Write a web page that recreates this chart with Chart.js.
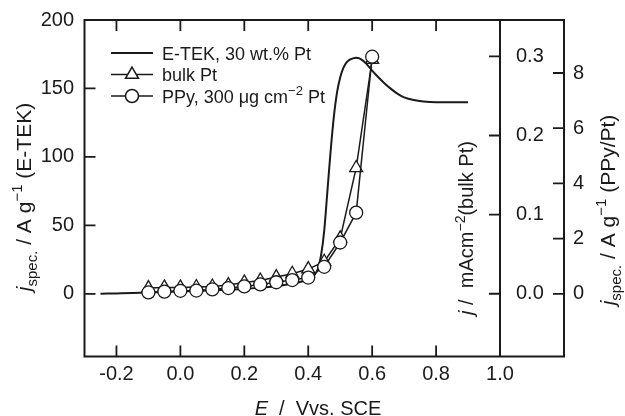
<!DOCTYPE html>
<html>
<head>
<meta charset="utf-8">
<script src="https://cdn.jsdelivr.net/npm/chart.js@4.4.0/dist/chart.umd.min.js"></script>
<style>
  html, body { margin: 0; padding: 0; background: #fff; }
  #wrap { width: 625px; height: 416px; }
</style>
</head>
<body>
<div id="wrap"><canvas id="c" width="625" height="416"></canvas></div>
<script>
// --- data ---
// E-TEK curve (left axis, A/g)
const eTekE = [-0.25, -0.2, -0.15, -0.1, -0.05, 0, 0.05, 0.1, 0.15, 0.2, 0.25, 0.3, 0.35, 0.38, 0.4, 0.42, 0.43, 0.44, 0.45, 0.46, 0.47, 0.48, 0.49, 0.5, 0.51, 0.52, 0.53, 0.54, 0.55, 0.56, 0.57, 0.58, 0.6, 0.62, 0.64, 0.66, 0.68, 0.7, 0.73, 0.76, 0.8, 0.85, 0.9];
const eTekJ = [0, 0.3, 0.6, 1, 1.3, 1.7, 2, 2.5, 3, 3.5, 4.5, 5.5, 7.5, 9, 11, 14, 18, 28, 46, 75, 104, 129, 147, 158, 165, 169, 171, 172, 172.5, 172, 170.5, 168.5, 163, 158, 153.5, 149.5, 146, 143.5, 141.5, 140.5, 140, 140, 140];

// marker series share the same potentials
const markerE = [-0.1, -0.05, 0, 0.05, 0.1, 0.15, 0.2, 0.25, 0.3, 0.35, 0.4, 0.45, 0.5, 0.55, 0.6];
const bulkPtJ = [0.0072, 0.008, 0.008, 0.0085, 0.0092, 0.011, 0.0143, 0.0168, 0.0211, 0.0253, 0.0312, 0.0405, 0.07, 0.159, 0.296];   // mA/cm2
const ppyPtJ = [0.05, 0.08, 0.11, 0.12, 0.16, 0.21, 0.27, 0.34, 0.42, 0.50, 0.59, 0.98, 1.86, 2.94, 8.59];   // A/g

// tick labels
const xTicks = [-0.2, 0, 0.2, 0.4, 0.6, 0.8, 1.0];
const eTekTicks = [0, 50, 100, 150, 200];
const bulkTicks = [0, 0.1, 0.2, 0.3];
const ppyTicks = [0, 2, 4, 6, 8];

const FONT = '"Liberation Sans", Arial, Helvetica, sans-serif';
const ink = '#1a1a1a';
const tickFont = { family: FONT, size: 20 };

function fixedTicks(list) {
  return function (scale) { scale.ticks = list.map(v => ({ value: v })); };
}
// fixed axis thickness, and no extra label padding pushing the plot area around
function fixedSize(size) {
  return function (scale) {
    if (scale.isHorizontal()) scale.height = size; else scale.width = size;
    scale.paddingTop = 0; scale.paddingBottom = 0;
    scale.paddingLeft = 0; scale.paddingRight = 0;
  };
}
function pairs(xs, ys) { return xs.map((x, i) => ({ x: x, y: ys[i] })); }

function fontOf(p, size) {
  const s = (p.sup || p.sub) ? Math.round(size * 0.7) : size;
  return (p.it ? 'italic ' : '') + s + 'px ' + FONT;
}
// draw text with sub/superscripts; x is centre (or left if alignLeft), y is baseline
function drawRich(ctx, parts, x, y, size, alignLeft) {
  let w = 0;
  parts.forEach(p => { ctx.font = fontOf(p, size); w += ctx.measureText(p.t).width; });
  let cx = alignLeft ? x : x - w / 2;
  parts.forEach(p => {
    ctx.font = fontOf(p, size);
    const dy = p.sup ? -size * 0.42 : (p.sub ? size * 0.28 : 0);
    ctx.fillText(p.t, cx, y + dy);
    cx += ctx.measureText(p.t).width;
  });
}

const frameAndText = {
  id: 'frameAndText',
  afterDraw(chart) {
    const ctx = chart.ctx;
    const a = chart.chartArea;
    const sx = chart.scales.x, sE = chart.scales.yE, sB = chart.scales.yB, sP = chart.scales.yP;
    const outerRight = sP.left;
    const TL = 11;
    ctx.save();
    ctx.strokeStyle = ink;
    ctx.fillStyle = ink;

    // frame
    ctx.lineWidth = 2;
    ctx.beginPath();
    ctx.moveTo(a.left, a.top); ctx.lineTo(outerRight, a.top);
    ctx.lineTo(outerRight, a.bottom); ctx.lineTo(a.left, a.bottom);
    ctx.closePath();
    ctx.moveTo(a.right, a.top); ctx.lineTo(a.right, a.bottom);
    ctx.stroke();

    // inward ticks
    ctx.lineWidth = 1.8;
    ctx.beginPath();
    sx.ticks.forEach(t => {
      const px = sx.getPixelForValue(t.value);
      ctx.moveTo(px, a.bottom); ctx.lineTo(px, a.bottom - TL);
      ctx.moveTo(px, a.top); ctx.lineTo(px, a.top + TL);
    });
    sE.ticks.forEach(t => {
      const py = sE.getPixelForValue(t.value);
      ctx.moveTo(a.left, py); ctx.lineTo(a.left + TL, py);
    });
    sB.ticks.forEach(t => {
      const py = sB.getPixelForValue(t.value);
      ctx.moveTo(a.right, py); ctx.lineTo(a.right - TL, py);
    });
    sP.ticks.forEach(t => {
      const py = sP.getPixelForValue(t.value);
      ctx.moveTo(outerRight, py); ctx.lineTo(outerRight - TL, py);
    });
    ctx.stroke();

    // axis titles
    ctx.textBaseline = 'alphabetic';
    drawRich(ctx, [{ t: 'E', it: true }, { t: '  /  Vvs. SCE' }], 318, 415, 20);

    const rotated = (parts, bx, cy, size) => {
      ctx.save();
      ctx.translate(bx, cy);
      ctx.rotate(-Math.PI / 2);
      drawRich(ctx, parts, 0, 0, size);
      ctx.restore();
    };
    rotated([{ t: 'j', it: true }, { t: 'spec.', sub: true }, { t: ' / A g' }, { t: '\u22121', sup: true }, { t: ' (E-TEK)' }], 31, 197, 21);
    rotated([{ t: 'j', it: true }, { t: ' /  mAcm' }, { t: '\u22122', sup: true }, { t: '(bulk Pt)' }], 473, 228, 20);
    rotated([{ t: 'j', it: true }, { t: 'spec.', sub: true }, { t: ' / A g' }, { t: '\u22121', sup: true }, { t: ' (PPy/Pt)' }], 615, 210, 21);

    // legend
    const rows = [
      { y: 53, style: null, parts: [{ t: 'E-TEK, 30 wt.% Pt' }] },
      { y: 74.5, style: 'triangle', r: 7.5, parts: [{ t: 'bulk Pt' }] },
      { y: 96, style: 'circle', r: 6.5, parts: [{ t: 'PPy, 300 \u03bcg cm' }, { t: '\u22122', sup: true }, { t: ' Pt' }] }
    ];
    rows.forEach(row => {
      ctx.lineWidth = row.style ? 1.5 : 2;
      ctx.beginPath();
      ctx.moveTo(111, row.y); ctx.lineTo(153, row.y);
      ctx.stroke();
      if (row.style) {
        ctx.fillStyle = '#fff';
        Chart.helpers.drawPoint(ctx, { pointStyle: row.style, radius: row.r, rotation: 0, borderWidth: 1.3 }, 132, row.y);
        ctx.fillStyle = ink;
      }
      drawRich(ctx, row.parts, 162, row.y + 6.5, 18, true);
    });
    ctx.restore();
  }
};

const axisBase = {
  type: 'linear',
  grid: { display: false, drawTicks: false },
  border: { display: false }
};

new Chart(document.getElementById('c'), {
  type: 'line',
  data: {
    datasets: [
      {
        label: 'PPy, 300 \u03bcg cm-2 Pt',
        data: pairs(markerE, ppyPtJ),
        yAxisID: 'yP',
        order: 0,
        borderColor: ink,
        borderWidth: 1.5,
        pointStyle: 'circle',
        pointRadius: 6.5,
        pointBackgroundColor: '#fff',
        pointBorderColor: ink,
        pointBorderWidth: 1.3
      },
      {
        label: 'bulk Pt',
        data: pairs(markerE, bulkPtJ),
        yAxisID: 'yB',
        order: 1,
        borderColor: ink,
        borderWidth: 1.5,
        pointStyle: 'triangle',
        pointRadius: 7.5,
        pointBackgroundColor: '#fff',
        pointBorderColor: ink,
        pointBorderWidth: 1.3
      },
      {
        label: 'E-TEK, 30 wt.% Pt',
        data: pairs(eTekE, eTekJ),
        yAxisID: 'yE',
        order: 2,
        borderColor: ink,
        borderWidth: 2,
        pointRadius: 0,
        cubicInterpolationMode: 'monotone'
      }
    ]
  },
  options: {
    responsive: false,
    animation: false,
    layout: { autoPadding: false, padding: { top: 20, left: 0, right: 0, bottom: 0 } },
    plugins: { legend: { display: false }, tooltip: { enabled: false } },
    scales: {
      x: Object.assign({}, axisBase, {
        position: 'bottom',
        min: -0.3, max: 1.0,
        afterBuildTicks: fixedTicks(xTicks),
        afterFit: fixedSize(59.5),
        ticks: { font: tickFont, color: ink, padding: 6, autoSkip: false, maxRotation: 0,
                 callback: v => v.toFixed(1) }
      }),
      yE: Object.assign({}, axisBase, {
        position: 'left',
        min: -45.8, max: 200,
        afterBuildTicks: fixedTicks(eTekTicks),
        afterFit: fixedSize(84.5),
        ticks: { font: tickFont, color: ink, padding: 10.5, callback: v => String(v) }
      }),
      yB: Object.assign({}, axisBase, {
        position: 'right',
        weight: 0,
        min: -0.0793, max: 0.346,
        afterBuildTicks: fixedTicks(bulkTicks),
        afterFit: fixedSize(64),
        ticks: { font: tickFont, color: ink, padding: 16, callback: v => v.toFixed(1) }
      }),
      yP: Object.assign({}, axisBase, {
        position: 'right',
        weight: 1,
        min: -2.27, max: 9.92,
        afterBuildTicks: fixedTicks(ppyTicks),
        afterFit: fixedSize(61),
        ticks: { font: tickFont, color: ink, padding: 9, callback: v => String(v) }
      })
    }
  },
  plugins: [frameAndText]
});
</script>
</body>
</html>
